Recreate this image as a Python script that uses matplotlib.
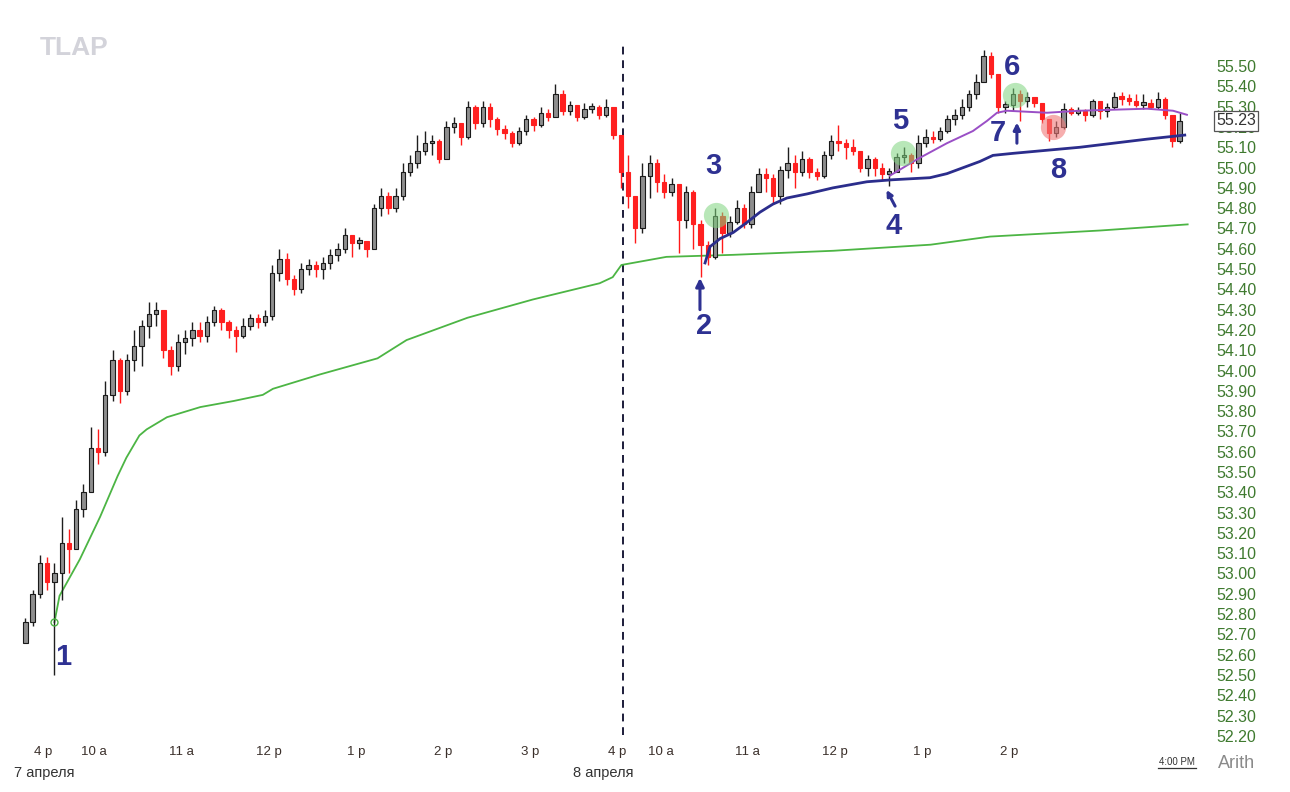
import numpy as np
import matplotlib.pyplot as plt
from matplotlib.transforms import blended_transform_factory

plt.rcParams['font.family'] = ['Liberation Sans', 'DejaVu Sans']

# bar times: minutes from 9:30 on 7 April, centre of each 5-minute bar
prev_times = [-17.5, -12.5, -7.5, -2.5]
day1_times = list(np.arange(2.5, 390, 5))
day2_times = list(np.arange(392.5, 780, 5))

first_open = 52.66
prev_close = [52.76, 52.90, 53.05, 52.96]
prev_high = [52.78, 52.92, 53.09, 53.08]
prev_low = [52.66, 52.74, 52.88, 52.92]

day1_close = [53.00, 53.15, 53.12, 53.32, 53.40, 53.62, 53.60, 53.88, 54.05, 53.90,
              54.05, 54.12, 54.22, 54.28, 54.30, 54.10, 54.02, 54.14, 54.16, 54.20,
              54.17, 54.24, 54.30, 54.24, 54.20, 54.17, 54.22, 54.26, 54.24, 54.27,
              54.48, 54.55, 54.45, 54.40, 54.50, 54.52, 54.50, 54.53, 54.57, 54.60,
              54.67, 54.63, 54.64, 54.60, 54.80, 54.86, 54.80, 54.86, 54.98, 55.02,
              55.08, 55.12, 55.13, 55.04, 55.20, 55.22, 55.15, 55.30, 55.22, 55.30,
              55.24, 55.19, 55.17, 55.12, 55.18, 55.24, 55.21, 55.27, 55.25, 55.36,
              55.28, 55.31, 55.25, 55.29, 55.30, 55.26, 55.30, 55.16]
day1_high = [53.05, 53.28, 53.22, 53.36, 53.44, 53.72, 53.71, 53.95, 54.10, 54.06,
             54.08, 54.20, 54.25, 54.34, 54.34, 54.30, 54.12, 54.18, 54.20, 54.24,
             54.24, 54.27, 54.32, 54.31, 54.25, 54.22, 54.26, 54.28, 54.28, 54.30,
             54.52, 54.60, 54.58, 54.47, 54.53, 54.55, 54.54, 54.56, 54.60, 54.63,
             54.70, 54.67, 54.66, 54.64, 54.82, 54.90, 54.88, 54.90, 55.02, 55.06,
             55.16, 55.18, 55.16, 55.14, 55.23, 55.25, 55.22, 55.33, 55.31, 55.33,
             55.32, 55.25, 55.21, 55.18, 55.20, 55.26, 55.25, 55.30, 55.29, 55.41,
             55.38, 55.33, 55.31, 55.32, 55.32, 55.31, 55.34, 55.30]
day1_low = [52.50, 52.87, 53.00, 53.12, 53.28, 53.40, 53.54, 53.58, 53.85, 53.84,
            53.88, 54.00, 54.02, 54.16, 54.22, 54.06, 53.98, 54.00, 54.08, 54.12,
            54.14, 54.14, 54.22, 54.20, 54.16, 54.09, 54.16, 54.20, 54.21, 54.22,
            54.25, 54.44, 54.42, 54.37, 54.38, 54.47, 54.46, 54.45, 54.50, 54.54,
            54.58, 54.56, 54.60, 54.56, 54.60, 54.76, 54.77, 54.78, 54.84, 54.96,
            55.00, 55.06, 55.06, 55.02, 55.04, 55.17, 55.11, 55.14, 55.19, 55.20,
            55.20, 55.16, 55.14, 55.10, 55.11, 55.16, 55.18, 55.20, 55.23, 55.25,
            55.26, 55.26, 55.23, 55.24, 55.27, 55.24, 55.25, 55.14]

day2_close = [54.98, 54.86, 54.70, 54.96, 55.02, 54.93, 54.88, 54.92, 54.74, 54.88,
              54.72, 54.62, 54.56, 54.76, 54.68, 54.73, 54.80, 54.72, 54.88, 54.97,
              54.95, 54.86, 54.99, 55.02, 54.98, 55.04, 54.98, 54.96, 55.06, 55.13,
              55.12, 55.10, 55.08, 55.00, 55.04, 55.00, 54.97, 54.98, 55.05, 55.06,
              55.02, 55.12, 55.15, 55.14, 55.18, 55.24, 55.26, 55.30, 55.36, 55.42,
              55.55, 55.46, 55.30, 55.31, 55.36, 55.33, 55.35, 55.32, 55.24, 55.17,
              55.20, 55.29, 55.27, 55.28, 55.26, 55.33, 55.28, 55.30, 55.35, 55.34,
              55.33, 55.31, 55.32, 55.30, 55.34, 55.26, 55.13, 55.23]
day2_high = [55.16, 55.06, 54.86, 55.02, 55.06, 55.04, 54.97, 54.95, 54.92, 54.91,
             54.89, 54.74, 54.64, 54.80, 54.78, 54.76, 54.84, 54.82, 54.91, 55.00,
             55.00, 54.97, 55.01, 55.10, 55.06, 55.08, 55.05, 55.00, 55.08, 55.16,
             55.21, 55.14, 55.14, 55.08, 55.06, 55.05, 55.02, 55.00, 55.07, 55.10,
             55.07, 55.16, 55.19, 55.18, 55.20, 55.26, 55.29, 55.34, 55.38, 55.46,
             55.58, 55.57, 55.46, 55.33, 55.39, 55.38, 55.37, 55.35, 55.31, 55.24,
             55.23, 55.32, 55.30, 55.30, 55.29, 55.34, 55.33, 55.32, 55.37, 55.37,
             55.36, 55.36, 55.36, 55.34, 55.37, 55.35, 55.26, 55.27]
day2_low = [54.90, 54.80, 54.63, 54.68, 54.85, 54.88, 54.85, 54.86, 54.58, 54.70,
            54.60, 54.46, 54.52, 54.55, 54.58, 54.66, 54.72, 54.70, 54.70, 54.88,
            54.88, 54.82, 54.82, 54.95, 54.90, 54.96, 54.95, 54.94, 54.95, 55.04,
            55.08, 55.04, 55.06, 54.98, 54.96, 54.96, 54.94, 54.91, 54.98, 55.02,
            54.98, 55.00, 55.10, 55.12, 55.13, 55.17, 55.21, 55.24, 55.28, 55.34,
            55.42, 55.44, 55.27, 55.27, 55.28, 55.23, 55.30, 55.30, 55.22, 55.13,
            55.15, 55.19, 55.26, 55.26, 55.23, 55.25, 55.24, 55.25, 55.29, 55.31,
            55.31, 55.30, 55.29, 55.29, 55.29, 55.24, 55.10, 55.12]

# VWAP-type lines (time, price)
vwap_t = [2.5, 6, 20, 34, 46, 52, 61, 66, 80, 103, 126, 146, 153, 185, 225, 245,
          287, 332, 378, 387, 393, 424, 470, 539, 606, 647, 723, 783]
vwap_v = [52.76, 52.89, 53.07, 53.28, 53.48, 53.57, 53.68, 53.71, 53.77, 53.82,
          53.85, 53.88, 53.91, 53.98, 54.06, 54.15, 54.26, 54.35, 54.43, 54.46,
          54.52, 54.56, 54.57, 54.59, 54.62, 54.66, 54.69, 54.72]
avwap2_t = [450.6, 454, 461, 470, 479.5, 488.4, 497.4, 507, 520.8, 538.7, 562.1,
            580, 605.5, 617.2, 639.9, 648.9, 662.7, 708.8, 755, 781]
avwap2_v = [54.53, 54.61, 54.65, 54.68, 54.73, 54.78, 54.82, 54.85, 54.87, 54.90,
            54.93, 54.94, 54.95, 54.97, 55.03, 55.06, 55.07, 55.10, 55.14, 55.16]
avwap4_t = [577.9, 596.5, 617.2, 635.1, 644.8, 651.7, 658.5, 686.1, 708.8, 755,
            772.9, 782.5]
avwap4_v = [54.96, 55.04, 55.12, 55.18, 55.23, 55.27, 55.28, 55.27, 55.28, 55.29,
            55.28, 55.26]

tick_pos = [-5, 30, 90, 150, 210, 270, 330, 390, 420, 480, 540, 600, 660]
tick_lab = ['4 p', '10 a', '11 a', '12 p', '1 p', '2 p', '3 p', '4 p', '10 a',
            '11 a', '12 p', '1 p', '2 p']
price_ticks = np.round(np.arange(52.2, 55.51, 0.1), 2)

t = np.array(prev_times + day1_times + day2_times)
closes = np.array(prev_close + day1_close + day2_close)
highs = np.array(prev_high + day1_high + day2_high)
lows = np.array(prev_low + day1_low + day2_low)
opens = np.r_[first_open, closes[:-1]]
up = closes >= opens

fig = plt.figure(figsize=(12.9, 7.92), dpi=100)
ax = fig.add_axes([0, 47 / 792, 1200 / 1290, 725 / 792])
ax.set_xlim(-35, 791.5)
ax.set_ylim(52.155, 55.727)
for s in ax.spines.values():
    s.set_visible(False)

# candles
ax.vlines(t[up], lows[up], highs[up], color='#1e1e1e', lw=1.0, zorder=3)
ax.vlines(t[~up], lows[~up], highs[~up], color='#ff1a1a', lw=1.0, zorder=3)
body = np.maximum(np.abs(closes - opens), 0.012)
bottom = np.minimum(opens, closes)
ax.bar(t[up], body[up], bottom=bottom[up], width=3.0, color='#8e8e8e',
       edgecolor='#1a1a1a', lw=0.8, zorder=4)
ax.bar(t[~up], body[~up], bottom=bottom[~up], width=3.0, color='#ff2020',
       edgecolor='#ff2020', lw=0.8, zorder=4)

# lines
ax.plot(vwap_t, vwap_v, color='#4cb544', lw=1.3, zorder=2)
ax.plot(vwap_t[:1], vwap_v[:1], 'o', ms=5, mfc='none', mec='#4cb544', mew=1.0,
        zorder=5)
ax.plot(avwap2_t, avwap2_v, color='#2b2d8c', lw=2.0, zorder=5)
ax.plot(avwap4_t, avwap4_v, color='#9a4fc6', lw=1.4, zorder=5)

# session divider
ax.axvline(394, ymin=0.014, ymax=0.97, color='#1c1c3a', lw=1.4,
           ls=(0, (4, 3)), zorder=1)

# highlight circles
ax.scatter([458.1, 586.9, 664.0], [54.766, 55.071, 55.357], s=330,
           color='#7ed47e', alpha=0.55, lw=0, zorder=6)
ax.scatter([690.2], [55.20], s=330, color='#f07878', alpha=0.6, lw=0, zorder=6)

# numbered notes and arrows
navy = '#2e3192'
notes = [('1', 8.4, 52.589), ('2', 449.9, 54.219), ('3', 456.1, 55.007),
         ('4', 580.7, 54.712), ('5', 584.8, 55.229), ('6', 662.0, 55.495),
         ('7', 652.4, 55.170), ('8', 693.7, 54.988)]
for txt, x, y in notes:
    ax.text(x, y, txt, color=navy, fontsize=21, fontweight='bold',
            ha='center', va='center', zorder=7)
arrows = [((447.1, 54.300), (447.1, 54.456), 12),
          ((581.5, 54.810), (575.6, 54.890), 8),
          ((665.4, 55.120), (665.4, 55.222), 10)]
for start, end, ms in arrows:
    ax.annotate('', xy=end, xytext=start,
                arrowprops=dict(arrowstyle='-|>', color=navy, lw=2.2,
                                mutation_scale=ms, shrinkA=0, shrinkB=0),
                zorder=7)

# axes ticks
ax.yaxis.tick_right()
ax.set_yticks(price_ticks)
ax.set_yticklabels(['%.2f' % p for p in price_ticks], color='#3f7a2f',
                   fontsize=11.5)
ax.tick_params(axis='y', length=0, pad=12)
ax.set_xticks(tick_pos)
ax.set_xticklabels(tick_lab, color='#3a2f2a', fontsize=9.5)
ax.tick_params(axis='x', length=0, pad=1)

# last price box
tr = blended_transform_factory(ax.transAxes, ax.transData)
ax.text(1.0135, closes[-1], '%.2f' % closes[-1], transform=tr, fontsize=11.5,
        color='#333333', va='center', ha='left', zorder=10, clip_on=False,
        bbox=dict(boxstyle='square,pad=0.15', fc='white', ec='#555555', lw=0.9))

# extra text
fig.text(74 / 1290, 1 - 48 / 792, 'TLAP', color='#d3d3da', fontsize=19,
         fontweight='bold', ha='center', va='center')
fig.text(14 / 1290, 1 - 773 / 792, '7 апреля', color='#333333', fontsize=10.5,
         va='center')
fig.text(573 / 1290, 1 - 773 / 792, '8 апреля', color='#333333', fontsize=10.5,
         va='center')
fig.text(1177 / 1290, 1 - 762 / 792, '4:00 PM', color='#333333', fontsize=7,
         ha='center', va='center')
fig.add_artist(plt.Line2D([1158 / 1290, 1196 / 1290],
                          [1 - 768 / 792, 1 - 768 / 792], color='#333333', lw=0.9))
fig.text(1237 / 1290, 1 - 763 / 792, 'Arith', color='#8a8a8a', fontsize=13,
         ha='center', va='center')

fig.savefig('out.png', dpi=100, facecolor='white')
